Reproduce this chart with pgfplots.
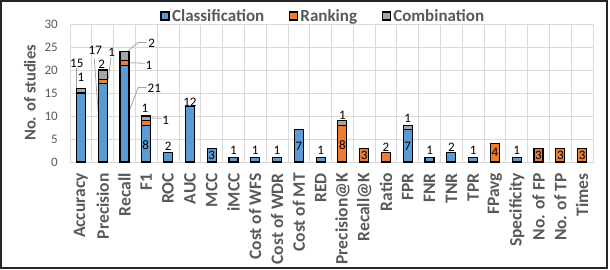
\documentclass[border=0pt]{standalone}
\usepackage{pgfplots}
\usepackage{pgfplotstable}
\pgfplotsset{compat=1.18}
\usepackage{fontspec}
\setmainfont{Carlito}
\definecolor{cblue}{HTML}{5B9BD5}
\definecolor{corange}{HTML}{ED7D31}
\definecolor{cgrey}{HTML}{A5A5A5}
\definecolor{gridc}{HTML}{D9D9D9}
\definecolor{txt}{HTML}{595959}
\definecolor{lead}{HTML}{A6A6A6}
\pgfplotstableread{
x C R M
0 15 0 1
1 17 1 2
2 21 1 2
3 8 1 1
4 2 0 0
5 12 0 0
6 3 0 0
7 1 0 0
8 1 0 0
9 1 0 0
10 7 0 0
11 1 0 0
12 0 8 1
13 0 3 0
14 0 2 0
15 7 0 1
16 1 0 0
17 2 0 0
18 1 0 0
19 0 4 0
20 1 0 0
21 0 3 0
22 0 3 0
23 0 3 0
}\data
\pgfplotsset{sqlegend/.style={legend image code/.code={\draw[##1, line width=1.2pt] (0pt,-4pt) rectangle (8pt,4pt);}}}
\newcommand\dl[3]{\coordinate (#3) at (axis cs:#1,#2);}
\newcommand\dn[2]{\node[font=\fontsize{13}{14}\selectfont, inner sep=0pt] at (#1) {#2};}
\begin{document}
\begin{tikzpicture}
\useasboundingbox (-70pt,-107pt) rectangle (540pt,162pt);
\begin{axis}[
 at={(0pt,0pt)}, anchor=south west,
 scale only axis, width=523pt, height=138pt,
 xmin=-0.5, xmax=23.5, ymin=0, ymax=30,
 ybar stacked, bar width=9pt,
 clip=false,
 xtick={0,...,23},
 xticklabels={Accuracy,Precision,Recall,F1,ROC,AUC,MCC,iMCC,Cost of WFS,Cost of WDR,Cost of MT,RED,Precision@K,Recall@K,Ratio,FPR,FNR,TNR,TPR,FPavg,Specificity,No. of FP,No. of TP,Times},
 minor xtick={-0.5,0.5,...,23.5},
 ytick={0,5,...,30},
 xmajorgrids=false, xminorgrids=true, ymajorgrids=true,
 grid style={draw=gridc, line width=0.8pt},
 minor grid style={draw=gridc, line width=0.8pt},
 axis line style={draw=gridc, line width=0.8pt},
 major tick length=0pt, minor tick length=0pt,
 tick style={draw=none},
 /pgf/number format/assume math mode=true,
 xticklabel style={yshift=-11pt, rotate=90, anchor=east, inner sep=0pt, font=\fontsize{17.5}{18}\selectfont\bfseries, text=txt},
 yticklabel style={inner sep=0pt, anchor=east, xshift=-12pt, font=\fontsize{13}{14}\selectfont, text=txt},
 ylabel={No. of studies},
 ylabel style={at={(axis description cs:-0.0765,0.5)}, anchor=center, font=\fontsize{16.5}{17}\selectfont\bfseries, text=txt},
 legend style={draw=none, fill=none, at={(0.5,1)}, anchor=center, xshift=-8pt, yshift=8pt, legend columns=3, font=\fontsize{17}{18}\selectfont\bfseries, text=txt, /tikz/every even column/.append style={column sep=22pt}, nodes={inner sep=2.5pt}},
 sqlegend,
]
\addplot[fill=cblue, draw=black, line width=1.2pt, sqlegend] table[x=x,y=C]{\data};
\addplot[fill=corange, draw=black, line width=1.2pt, sqlegend] table[x=x,y=R]{\data};
\addplot[fill=cgrey, draw=black, line width=1.2pt, sqlegend] table[x=x,y=M]{\data};
\legend{Classification, Ranking, Combination}
% leader lines
\draw[lead, line width=0.8pt] (axis cs:-0.225,20.4) -- (axis cs:-0.225,7.7);
\draw[lead, line width=0.8pt] (axis cs:0.615,22.5) -- (axis cs:0.83,8.4);
\draw[lead, line width=0.8pt] (axis cs:1.38,22.75) -- (axis cs:1.26,18.0);
\draw[lead, line width=0.8pt] (axis cs:3.02,26.0) -- (axis cs:2.63,26.0) -- (axis cs:2.17,24.2);
\draw[lead, line width=0.8pt] (axis cs:2.94,21.45) -- (axis cs:2.17,21.6);
\draw[lead, line width=0.8pt] (axis cs:3.02,16.2) -- (axis cs:2.63,16.2) -- (axis cs:2.17,10.6);
\draw[lead, line width=0.8pt] (axis cs:3.7,9.5) -- (axis cs:3.25,9.6);
% label anchors
\dl{-0.19}{21.45}{a1}
\dl{0.0}{18.4}{a2}
\dl{0.66}{24.35}{a3}
\dl{0.95}{21.3}{a4}
\dl{1.41}{23.8}{a5}
\dl{3.25}{25.8}{a6}
\dl{3.12}{21.1}{a7}
\dl{3.37}{16.0}{a8}
\dl{2.94}{11.67}{a9}
\dl{3.89}{9.13}{a10}
\dl{2.97}{3.7}{a11}
\dl{4}{3.4}{a12}
\dl{5}{12.9}{a13}
\dl{6}{1.5}{a14}
\dl{7}{2.5}{a15}
\dl{8}{2.5}{a16}
\dl{9}{2.5}{a17}
\dl{10}{3.4}{a18}
\dl{11}{2.5}{a19}
\dl{12}{3.7}{a20}
\dl{12}{10.2}{a21}
\dl{13}{1.5}{a22}
\dl{14}{3.1}{a23}
\dl{15}{3.4}{a24}
\dl{15}{9.5}{a25}
\dl{16}{2.6}{a26}
\dl{17}{3.3}{a27}
\dl{18}{2.6}{a28}
\dl{19}{2.2}{a29}
\dl{20}{2.6}{a30}
\dl{21}{1.5}{a31}
\dl{22}{1.5}{a32}
\dl{23}{1.5}{a33}
\end{axis}
\dn{a1}{15}
\dn{a2}{1}
\dn{a3}{17}
\dn{a4}{2}
\dn{a5}{1}
\dn{a6}{2}
\dn{a7}{1}
\dn{a8}{21}
\dn{a9}{1}
\dn{a10}{1}
\dn{a11}{8}
\dn{a12}{2}
\dn{a13}{12}
\dn{a14}{3}
\dn{a15}{1}
\dn{a16}{1}
\dn{a17}{1}
\dn{a18}{7}
\dn{a19}{1}
\dn{a20}{8}
\dn{a21}{1}
\dn{a22}{3}
\dn{a23}{2}
\dn{a24}{7}
\dn{a25}{1}
\dn{a26}{1}
\dn{a27}{2}
\dn{a28}{1}
\dn{a29}{4}
\dn{a30}{1}
\dn{a31}{3}
\dn{a32}{3}
\dn{a33}{3}
\draw[black!85, line width=2pt] (-69pt,-106pt) rectangle (537pt,161pt);
\end{tikzpicture}
\end{document}
